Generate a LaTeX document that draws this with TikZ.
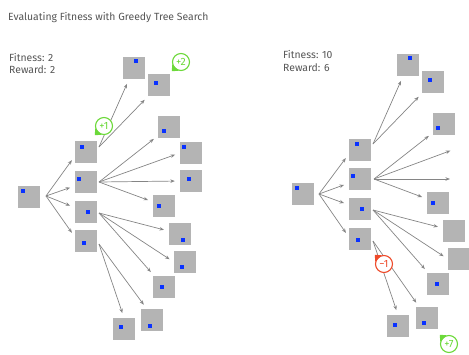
\documentclass[tikz,border=0pt]{standalone}
\usepackage{fontspec}
\setmainfont{Fira Sans}
\usepackage{tikz}
\usetikzlibrary{arrows.meta}

\definecolor{boxgray}{HTML}{B4B4B4}
\definecolor{dotblue}{HTML}{0A32FF}
\definecolor{linegray}{HTML}{858585}
\definecolor{txtgray}{HTML}{555555}
\definecolor{rewgreen}{HTML}{6CD93A}
\definecolor{rewred}{HTML}{EE4A2A}

\tikzset{
  cell/.style={fill=boxgray, minimum size=22pt, inner sep=0pt},
  move/.style={draw=linegray, line width=0.7pt, -{Stealth[length=4.5pt,width=3.5pt]}, shorten >=5pt},
  caption/.style={anchor=base west, text=txtgray, inner sep=0pt, font=\fontsize{10.4}{12}\selectfont},
  bubble/.style={circle, draw=#1, fill=white, text=#1, line width=1.1pt, minimum size=17pt, inner sep=0pt, font=\fontsize{10.5}{10.5}\selectfont},
}

\begin{document}
\begin{tikzpicture}[x=1pt, y=-1pt]
    \useasboundingbox (0,0) rectangle (469,354);
    \node[caption] (title) at (8,20) {Evaluating Fitness with Greedy Tree Search};
    \begin{scope}
      \node[caption] (fitL) at (9,61) {Fitness: 2};
      \node[caption] (rewL) at (9,73) {Reward: 2};
      \node[cell] (rootL) at (29,197) {};
      \node[cell] (a1) at (86,152) {};
      \node[cell] (a2) at (86,182) {};
      \node[cell] (a3) at (86,212) {};
      \node[cell] (a4) at (86,241) {};
      \node[cell] (b11) at (134,68) {};
      \node[cell] (b12) at (159,85) {};
      \node[cell] (b21) at (169,127) {};
      \node[cell] (b22) at (191,153) {};
      \node[cell] (b23) at (191,181) {};
      \node[cell] (b24) at (164,206) {};
      \node[cell] (b31) at (180,234) {};
      \node[cell] (b32) at (185,262) {};
      \node[cell] (b33) at (164,287) {};
      \node[cell] (b41) at (124,329) {};
      \node[cell] (b42) at (152,320) {};
      \foreach \p in {(23,191), (82,147), (79,179), (88,212), (84,243), (136,61), (156,83),
        (164,131), (184,147), (189,179), (159,206), (183,240), (182,267), (162,287), (121,327), (150,326)}
        \fill[dotblue] \p +(-2,-2) rectangle +(2,2);
      \coordinate (rootLo) at (46,196);
      \coordinate (a1o) at (99,147);
      \coordinate (a2o) at (99,182);
      \coordinate (a3o) at (99,213);
      \coordinate (a4o) at (99,244);
      \draw[move] (rootLo) -- (a1.200);
      \draw[move] (rootLo) -- (a2);
      \draw[move] (rootLo) -- (a3);
      \draw[move] (rootLo) -- (a4.160);
      \draw[move] (a1o) -- (b11);
      \draw[move] (a1o) -- (b12);
      \draw[move] (a2o) -- (b21);
      \draw[move] (a2o) -- (b22.west);
      \draw[move] (a2o) -- (b23.west);
      \draw[move] (a2o) -- (b24);
      \draw[move] (a3o) -- (b31);
      \draw[move] (a3o) -- (b32.west);
      \draw[move] (a3o) -- (b33);
      \draw[move] (a4o) -- (b41.north);
      \draw[move] (a4o) -- (b42.115);
      \node[bubble=rewgreen] (plus1) at (104,126) {+1};
      \fill[rewgreen] (plus1.195) -- (plus1.255) -- ([shift={(225:4pt)}]plus1.225) -- cycle;
      \node[bubble=rewgreen] (plus2) at (181,62) {+2};
      \fill[rewgreen] (plus2.195) -- (plus2.255) -- ([shift={(225:4pt)}]plus2.225) -- cycle;
    \end{scope}
    \begin{scope}
      \node[caption] (fitR) at (283,58) {Fitness: 10};
      \node[caption] (rewR) at (283,71) {Reward: 6};
      \node[cell] (rootR) at (303,194) {};
      \node[cell] (c1) at (360,150) {};
      \node[cell] (c2) at (360,179) {};
      \node[cell] (c3) at (360,209) {};
      \node[cell] (c4) at (360,239) {};
      \node[cell] (d11) at (408,65) {};
      \node[cell] (d12) at (433,82) {};
      \node[cell] (d21) at (444,124) {};
      \coordinate (d22) at (455,149);
      \coordinate (d23) at (455,179);
      \node[cell] (d24) at (438,203) {};
      \node[cell] (d31) at (454,231) {};
      \node[cell] (d32) at (459,259) {};
      \node[cell] (d33) at (438,284) {};
      \node[cell] (d41) at (398,326) {};
      \node[cell] (d42) at (427,318) {};
      \foreach \p in {(297,188), (357,144), (353,176), (362,209), (358,240), (410,58), (430,80),
        (438,128), (433,203), (437,284), (395,325), (424,323)}
        \fill[dotblue] \p +(-2,-2) rectangle +(2,2);
      \coordinate (rootRo) at (319,194);
      \coordinate (c1o) at (373,144);
      \coordinate (c2o) at (374,179);
      \coordinate (c3o) at (373,210);
      \coordinate (c4o) at (373,241);
      \draw[move] (rootRo) -- (c1.200);
      \draw[move] (rootRo) -- (c2);
      \draw[move] (rootRo) -- (c3);
      \draw[move] (rootRo) -- (c4.170);
      \draw[move] (c1o) -- (d11);
      \draw[move] (c1o) -- (d12);
      \draw[move] (c2o) -- (d21);
      \draw[move] (c2o) -- (d22);
      \draw[move] (c2o) -- (d23);
      \draw[move] (c2o) -- (d24);
      \draw[move] (c3o) -- (d31);
      \draw[move] (c3o) -- (d32.west);
      \draw[move] (c3o) -- (d33);
      \draw[move] (c4o) -- (d41.north);
      \draw[move] (c4o) -- (d42);
      \node[bubble=rewred] (minus1) at (384,264) {−1};
      \fill[rewred] (minus1.105) -- (minus1.165) -- ([shift={(135:4pt)}]minus1.135) -- cycle;
      \node[bubble=rewgreen] (plus7) at (449,344) {+7};
      \fill[rewgreen] (plus7.105) -- (plus7.165) -- ([shift={(135:4pt)}]plus7.135) -- cycle;
    \end{scope}
\end{tikzpicture}
\end{document}
